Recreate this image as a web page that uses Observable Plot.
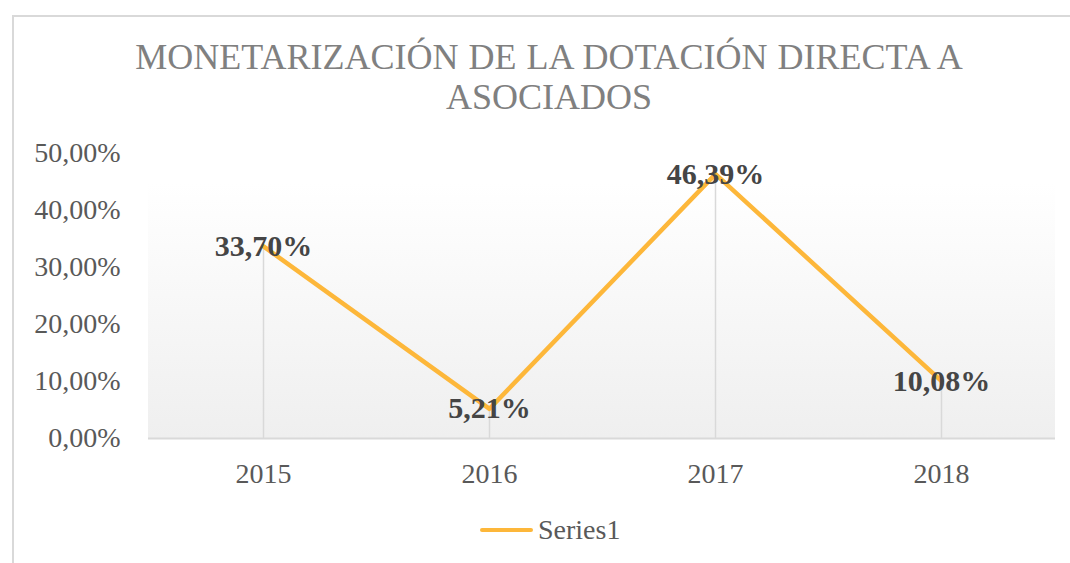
<!DOCTYPE html>
<html>
<head>
<meta charset="utf-8">
<script src="https://cdn.jsdelivr.net/npm/d3@7"></script>
<script src="https://cdn.jsdelivr.net/npm/@observablehq/plot@0.6"></script>
<style>
  html, body { margin: 0; padding: 0; background: #fff; }
  #wrap { position: relative; width: 1070px; height: 563px; overflow: hidden; font-family: "Liberation Serif", "Times New Roman", serif; }
  #border { position: absolute; left: 12px; top: 15px; width: 1100px; height: 600px; border: 2px solid #d9d9d9; box-sizing: border-box; }
  #bg { position: absolute; left: 148px; top: 183px; width: 907px; height: 255px; background: linear-gradient(to bottom, #ffffff, #efefef); }
  #title { position: absolute; left: 0; width: 1098px; top: 37px; text-align: center; color: #808080; font-size: 36px; line-height: 40px; word-spacing: 1px; }
  #legend { position: absolute; left: 480px; top: 514px; display: flex; align-items: center; color: #595959; font-size: 28px; }
  #legend .sw { width: 53px; height: 4px; background: #fdb73a; border-radius: 2px; margin-right: 5px; }
  #chart { position: absolute; left: 0; top: 0; }
  #chart svg { background: transparent !important; }
</style>
</head>
<body>
<div id="wrap">
  <div id="border"></div>
  <div id="bg"></div>
  <div id="chart"></div>
  <div id="title">MONETARIZACIÓN DE LA DOTACIÓN DIRECTA A<br>ASOCIADOS</div>
  <div id="legend"><div class="sw"></div><span id="legtext"></span></div>
</div>
<script>
const years = ["2015", "2016", "2017", "2018"];
const values = [33.70, 5.21, 46.39, 10.08];
const seriesName = "Series1";
const yTicks = [0, 10, 20, 30, 40, 50];

const data = years.map((y, i) => ({year: y, value: values[i]}));
const fmt = v => v.toFixed(2).replace(".", ",") + "%";

document.getElementById("legtext").textContent = seriesName;

const chart = Plot.plot({
  width: 1070,
  height: 563,
  marginLeft: 148,
  marginRight: 15,
  marginTop: 153,
  marginBottom: 125,
  style: {background: "transparent", fontFamily: "'Liberation Serif', 'Times New Roman', serif", color: "#595959", overflow: "visible"},
  x: {type: "point", domain: years, padding: 0.5, label: null},
  y: {domain: [0, 50], label: null},
  marks: [
    Plot.ruleX(data, {x: "year", y1: 0, y2: "value", stroke: "#d9d9d9", strokeWidth: 1.5}),
    Plot.ruleY([0], {stroke: "#d9d9d9", strokeWidth: 2}),
    Plot.axisY({ticks: yTicks, tickSize: 0, tickPadding: 28, tickFormat: fmt, fontSize: 28, fill: "#595959", label: null}),
    Plot.axisX({tickSize: 0, tickPadding: 25, fontSize: 28, fill: "#595959", label: null}),
    Plot.line(data, {x: "year", y: "value", stroke: "#fdb73a", strokeWidth: 4.5}),
    Plot.text(data, {x: "year", y: "value", text: d => fmt(d.value), fontSize: 30, fontWeight: "bold", fill: "#454545"})
  ]
});
document.getElementById("chart").appendChild(chart);
</script>
</body>
</html>
